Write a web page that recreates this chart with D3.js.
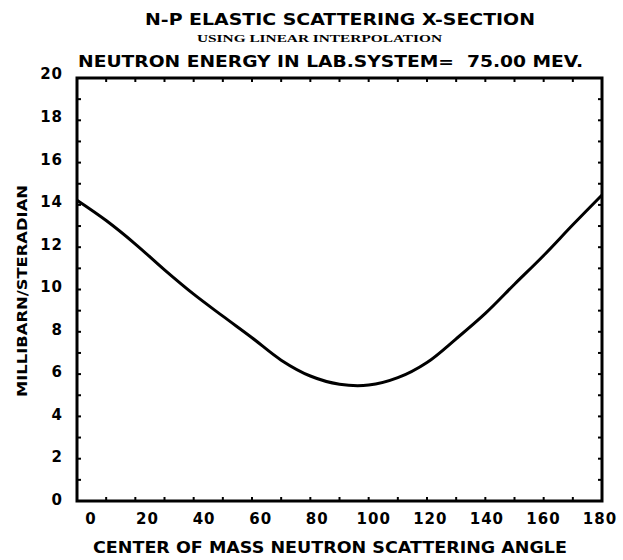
<!DOCTYPE html>
<html>
<head>
<meta charset="utf-8">
<script src="https://cdn.jsdelivr.net/npm/d3@7/dist/d3.min.js"></script>
<style>
  html, body { margin: 0; padding: 0; background: #fff; }
  svg { display: block; }
  .plot { font-family: "DejaVu Sans", sans-serif; font-weight: bold; fill: #000; }
</style>
</head>
<body>
<script>
// ---- data ----
const angles = [0, 10, 20, 30, 40, 50, 60, 70, 80, 90, 100, 110, 120, 130, 140, 150, 160, 170, 180];
const crossSection = [14.22, 13.26, 12.15, 10.93, 9.78, 8.74, 7.72, 6.66, 5.91, 5.52, 5.48, 5.83, 6.55, 7.67, 8.87, 10.25, 11.61, 13.06, 14.47];
const xTickLabels = [0, 20, 40, 60, 80, 100, 120, 140, 160, 180];
const yTickLabels = [0, 2, 4, 6, 8, 10, 12, 14, 16, 18, 20];
const xMinorTicks = d3.range(10, 180, 10);
const yMinorTicks = d3.range(1, 20, 1);
const titleText = "N-P ELASTIC SCATTERING X-SECTION";
const subtitleText = "USING LINEAR INTERPOLATION";
const energyText = "NEUTRON ENERGY IN LAB.SYSTEM=  75.00 MEV.";
const xTitle = "CENTER OF MASS NEUTRON SCATTERING ANGLE";
const yTitle = "MILLIBARN/STERADIAN";

const W = 623, H = 560;
const svg = d3.select("body").append("svg").attr("width", W).attr("height", H);

const x = d3.scaleLinear().domain([0, 180]).range([77, 602]);
const y = d3.scaleLinear().domain([0, 20]).range([501, 78]);
// plotter label placement (labels offset from tick positions)
const xLab = d3.scaleLinear().domain([0, 180]).range([91, 600]);
const yLab = d3.scaleLinear().domain([0, 20]).range([499.5, 74]);

const g = svg.append("g").attr("class", "plot");

// frame
g.append("rect")
  .attr("x", x(0)).attr("y", y(20))
  .attr("width", x(180) - x(0)).attr("height", y(0) - y(20))
  .attr("fill", "none").attr("stroke", "#000").attr("stroke-width", 3);

// inward ticks
const tl = 4;
g.selectAll(".tb").data(xMinorTicks).join("line")
  .attr("x1", d => x(d)).attr("x2", d => x(d))
  .attr("y1", y(0)).attr("y2", y(0) - tl)
  .attr("stroke", "#000").attr("stroke-width", 2);
g.selectAll(".tt").data(xMinorTicks).join("line")
  .attr("x1", d => x(d)).attr("x2", d => x(d))
  .attr("y1", y(20)).attr("y2", y(20) + tl)
  .attr("stroke", "#000").attr("stroke-width", 2);
g.selectAll(".tl").data(yMinorTicks).join("line")
  .attr("x1", x(0)).attr("x2", x(0) + tl)
  .attr("y1", d => y(d)).attr("y2", d => y(d))
  .attr("stroke", "#000").attr("stroke-width", 2);
g.selectAll(".tr").data(yMinorTicks).join("line")
  .attr("x1", x(180)).attr("x2", x(180) - tl)
  .attr("y1", d => y(d)).attr("y2", d => y(d))
  .attr("stroke", "#000").attr("stroke-width", 2);

// tick labels
g.selectAll(".xl").data(xTickLabels).join("text")
  .attr("x", d => xLab(d)).attr("y", 524)
  .attr("text-anchor", "middle")
  .attr("font-size", 15).attr("letter-spacing", 1)
  .text(d => d);
g.selectAll(".yl").data(yTickLabels).join("text")
  .attr("x", 63).attr("y", d => yLab(d))
  .attr("dy", "0.36em")
  .attr("text-anchor", "end")
  .attr("font-size", 15).attr("letter-spacing", 1)
  .text(d => d);

// curve
const line = d3.line().x((d, i) => x(angles[i])).y(d => y(d)).curve(d3.curveCatmullRom.alpha(0.5));
g.append("path")
  .datum(crossSection)
  .attr("d", line)
  .attr("fill", "none").attr("stroke", "#000").attr("stroke-width", 3)
  .attr("stroke-linejoin", "round");

// titles
g.append("text").attr("x", 145).attr("y", 25)
  .attr("font-size", 15).attr("textLength", 390).attr("lengthAdjust", "spacingAndGlyphs")
  .text(titleText);
g.append("text").attr("x", 197).attr("y", 42)
  .attr("font-family", "'Liberation Serif', serif").attr("font-size", 11)
  .attr("textLength", 245).attr("lengthAdjust", "spacingAndGlyphs")
  .text(subtitleText);
g.append("text").attr("x", 78).attr("y", 67)
  .attr("font-size", 15).attr("textLength", 505).attr("lengthAdjust", "spacingAndGlyphs")
  .attr("xml:space", "preserve").style("white-space", "pre")
  .text(energyText);
g.append("text").attr("x", 93).attr("y", 553)
  .attr("font-size", 15).attr("textLength", 474).attr("lengthAdjust", "spacingAndGlyphs")
  .text(xTitle);
g.append("text")
  .attr("transform", "translate(27,291) rotate(-90)")
  .attr("text-anchor", "middle")
  .attr("font-size", 14).attr("textLength", 212).attr("lengthAdjust", "spacingAndGlyphs")
  .text(yTitle);
</script>
</body>
</html>
